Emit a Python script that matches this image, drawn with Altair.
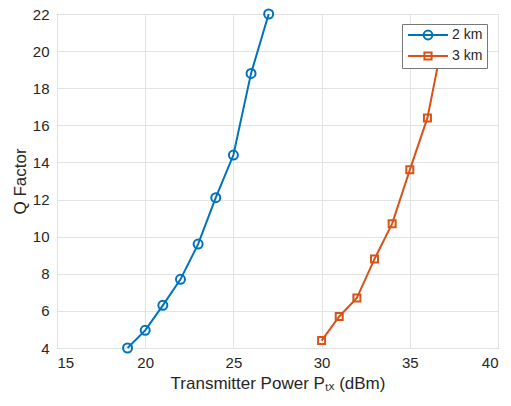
import altair as alt
import pandas as pd

power_2km = [19, 20, 21, 22, 23, 24, 25, 26, 27]
q_2km = [4.0, 4.95, 6.3, 7.7, 9.6, 12.1, 14.4, 18.8, 22.0]
power_3km = [30, 31, 32, 33, 34, 35, 36, 37]
q_3km = [4.4, 5.7, 6.7, 8.8, 10.7, 13.6, 16.4, 21.2]
series_names = ["2 km", "3 km"]
series_colors = ["#0072BD", "#D95319"]
x_ticks = [15, 20, 25, 30, 35, 40]
y_ticks = [4, 6, 8, 10, 12, 14, 16, 18, 20, 22]

df = pd.concat([
    pd.DataFrame({"power": power_2km, "q": q_2km, "series": series_names[0]}),
    pd.DataFrame({"power": power_3km, "q": q_3km, "series": series_names[1]}),
])

FONT = "Liberation Sans"
TXT = "#262626"

# legend symbols: line with marker in the middle (MATLAB style), unit = 6 px
path_circle = "M-3.333,0H3.333M-0.73,0A0.73,0.73,0,1,0,0.73,0A0.73,0.73,0,1,0,-0.73,0"
path_square = "M-3.333,0H3.333M-0.6,-0.6H0.6V0.6H-0.6Z"

legend = alt.Legend(
    title=None, orient="none", legendX=345, legendY=10, zindex=1,
    symbolSize=144, symbolStrokeWidth=2, symbolOpacity=1, symbolOffset=15,
    labelFontSize=14, labelFont=FONT, labelColor=TXT, labelOffset=17,
    padding=4, rowPadding=4, strokeColor="#777777", fillColor="white",
)

x = alt.X("power:Q",
          scale=alt.Scale(domain=[15, 40], nice=False, zero=False),
          axis=alt.Axis(values=x_ticks, title="Transmitter Power Pₜₓ (dBm)"))
y = alt.Y("q:Q",
          scale=alt.Scale(domain=[4, 22], nice=False, zero=False),
          axis=alt.Axis(values=y_ticks, title="Q Factor"))
color = alt.Color("series:N", scale=alt.Scale(domain=series_names, range=series_colors), legend=legend)
shape = alt.Shape("series:N", scale=alt.Scale(domain=series_names, range=[path_circle, path_square]), legend=legend)

base = alt.Chart(df)

lines = base.mark_line(strokeWidth=2).encode(x=x, y=y, color=color)
circles = base.transform_filter(alt.datum.series == series_names[0]).mark_point(
    shape="circle", size=81, strokeWidth=2, filled=False, opacity=1).encode(x=x, y=y, color=color)
squares = base.transform_filter(alt.datum.series == series_names[1]).mark_point(
    shape="square", size=49, strokeWidth=2, filled=False, opacity=1).encode(x=x, y=y, color=color)
legend_layer = base.mark_point(opacity=0).encode(x=x, y=y, color=color, shape=shape)

chart = alt.layer(lines, circles, squares, legend_layer).properties(
    width=441, height=334,
    padding={"left": 57, "top": 14, "right": 13, "bottom": 58},
    autosize=alt.AutoSizeParams(type="none"),
    background="white",
).configure_view(
    stroke="#777777", strokeWidth=1
).configure_axis(
    domain=False, ticks=False, tickSize=0,
    grid=True, gridColor="#e3e3e3", gridWidth=1,
    labelFont=FONT, labelFontSize=15, labelColor=TXT,
    titleFont=FONT, titleFontSize=17, titleColor=TXT, titleFontWeight="normal",
).configure_axisX(
    labelPadding=7, titlePadding=5
).configure_axisY(
    labelPadding=8, titlePadding=3
).configure_legend(
    symbolOpacity=1
)

chart.save("out.html", embed_options={"renderer": "svg", "actions": False})
